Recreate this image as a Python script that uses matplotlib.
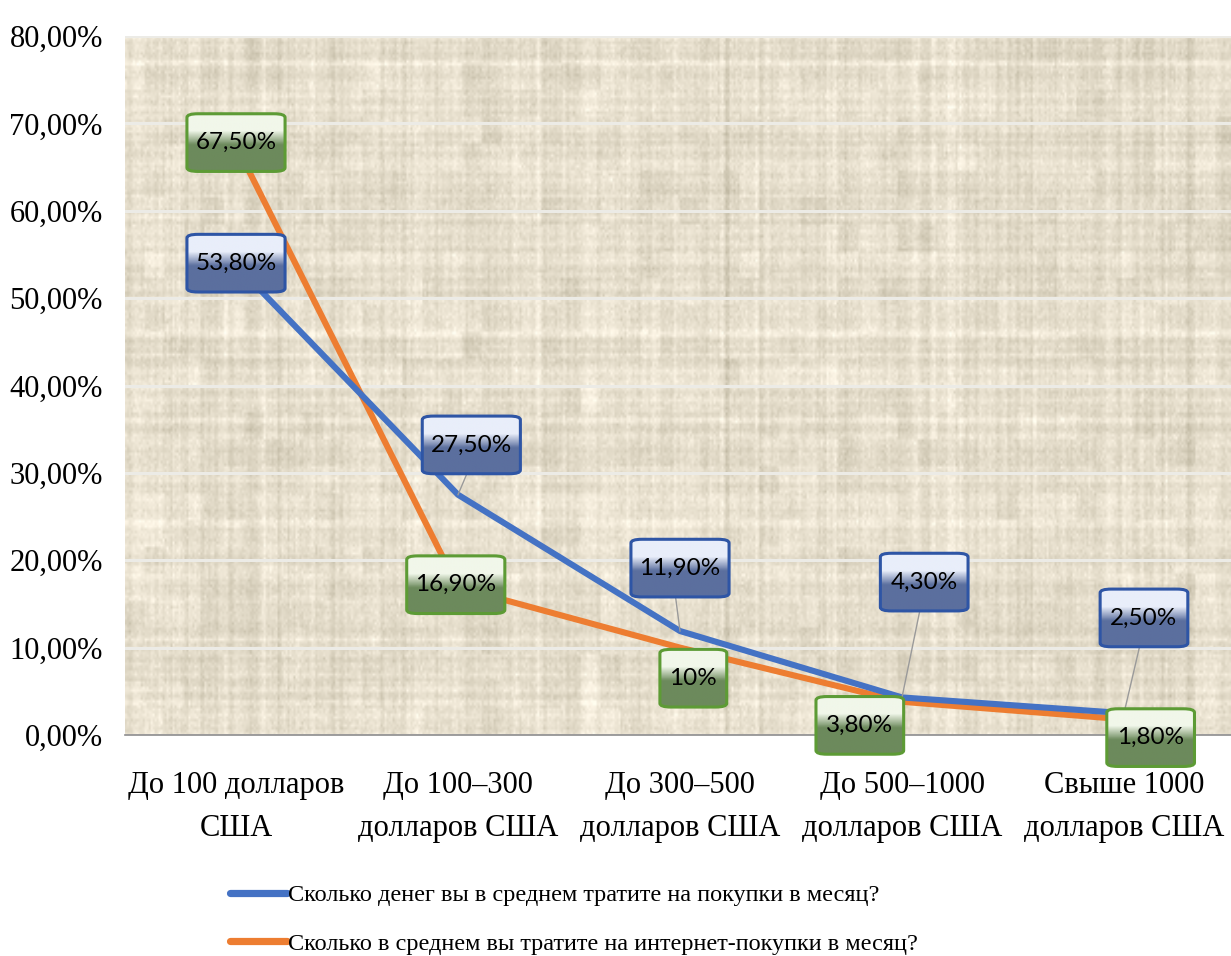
import numpy as np
import matplotlib
matplotlib.use("Agg")
import matplotlib.pyplot as plt
from matplotlib.patches import FancyBboxPatch
from matplotlib.colors import LinearSegmentedColormap

# данные опроса
categories = ["До 100 долларов\nСША", "До 100–300\nдолларов США", "До 300–500\nдолларов США",
              "До 500–1000\nдолларов США", "Свыше 1000\nдолларов США"]
spend_total = [53.8, 27.5, 11.9, 4.3, 2.5]
spend_online = [67.5, 16.9, 10.0, 3.8, 1.8]
labels_total = ["53,80%", "27,50%", "11,90%", "4,30%", "2,50%"]
labels_online = ["67,50%", "16,90%", "10%", "3,80%", "1,80%"]
series_names = ["Сколько денег вы в среднем тратите на покупки в месяц?",
                "Сколько в среднем вы тратите на интернет-покупки в месяц?"]
yticks = [0, 10, 20, 30, 40, 50, 60, 70, 80]

# положение подписей (центр рамки) относительно точки
offs_total = [(0.0, 0.2), (0.06, 5.7), (0.0, 7.2), (0.1, 13.2), (0.09, 10.9)]
offs_online = [(0.0, 0.3), (-0.01, 0.3), (0.06, -3.5), (-0.19, -2.7), (0.12, -2.1)]

blue = "#4472C4"
orange = "#ED7D31"

fig = plt.figure(figsize=(12.31, 9.56), dpi=100)
ax = fig.add_axes([125 / 1231, 1 - 735 / 956, 1110 / 1231, (735 - 36) / 956])
x = np.arange(len(categories))
ax.set_xlim(-0.5, 4.5)
ax.set_ylim(0, 80)

# фон "мешковина"
rng = np.random.default_rng(3)
H, W = 260, 560
rows = np.convolve(rng.normal(0, 1, H), np.ones(2) / 2, mode="same")
cols = np.convolve(rng.normal(0, 1, W), np.ones(2) / 2, mode="same")
fine = rng.normal(0, 1, (H, W))
blotch = rng.normal(0, 1, (H // 10 + 1, W // 10 + 1)).repeat(10, 0).repeat(10, 1)[:H, :W]
shade = 0.028 * rows[:, None] + 0.028 * cols[None, :] + 0.020 * fine + 0.014 * blotch
base = np.array([0.900, 0.870, 0.800])
tex = np.clip(base[None, None, :] + shade[:, :, None] * np.array([1.0, 1.0, 1.1]), 0, 1)
ax.imshow(tex, extent=(-0.5, 4.5, 0, 80), aspect="auto", interpolation="bilinear", zorder=0)

ax.set_yticks(yticks)
ax.yaxis.grid(True, color="#ecebe6", lw=2.2, zorder=1)
ax.set_axisbelow(True)
for s in ["left", "right", "top"]:
    ax.spines[s].set_visible(False)
ax.spines["bottom"].set_color("#8c8c8c")
ax.spines["bottom"].set_linewidth(1.2)

ax.plot(x, spend_total, color=blue, lw=4.4, solid_capstyle="butt", zorder=3, label=series_names[0])
ax.plot(x, spend_online, color=orange, lw=4.4, solid_capstyle="butt", zorder=2, label=series_names[1])


def label_box(cx, cy, text, top, bottom, edge):
    w = 0.16 + 0.047 * len(text)
    h = 6.6
    box = FancyBboxPatch((cx - w / 2, cy - h / 2), w, h,
                         boxstyle="round,pad=0,rounding_size=0.05",
                         mutation_aspect=8.5, facecolor="none", edgecolor=edge,
                         lw=2.2, zorder=6, clip_on=False)
    ax.add_patch(box)
    cmap = LinearSegmentedColormap.from_list("b", [(0, top), (0.3, top), (0.55, bottom), (1, bottom)])
    grad = np.linspace(0, 1, 64)[:, None] * np.ones((1, 8))
    im = ax.imshow(grad, cmap=cmap, extent=(cx - w / 2, cx + w / 2, cy - h / 2, cy + h / 2),
                   aspect="auto", origin="upper", zorder=5, interpolation="bilinear")
    im.set_clip_path(box)
    im.set_clip_box(fig.bbox)
    ax.text(cx, cy, text, ha="center", va="center", fontsize=17.5, family="Lato",
            color="black", zorder=7, clip_on=False)
    return h


for xi, yi, t, (dx, dy) in zip(x, spend_total, labels_total, offs_total):
    cx, cy = xi + dx, yi + dy
    h = label_box(cx, cy, t, "#e9eefa", "#5b6f9e", "#2e55a5")
    if dy > 4:
        ax.plot([cx - 0.02, xi], [cy - h / 2, yi], color="#9a9a9a", lw=1, zorder=4)

for xi, yi, t, (dx, dy) in zip(x, spend_online, labels_online, offs_online):
    label_box(xi + dx, yi + dy, t, "#f1f7ea", "#6c8a5c", "#5d9b35")

ax.set_xticks(x)
ax.set_xticklabels(categories, fontsize=22, family="Liberation Serif", linespacing=1.62)
ax.set_yticklabels([f"{v},00%" for v in yticks], fontsize=22, family="Liberation Serif")
ax.tick_params(axis="x", length=0, pad=26)
ax.tick_params(axis="y", length=0, pad=16)

leg = fig.legend(loc="upper left", bbox_to_anchor=(230 / 1231, 1 - 884 / 956), frameon=False,
                 prop={"family": "Liberation Serif", "size": 17.5}, handlelength=2.35,
                 handletextpad=0.05, labelspacing=1.1, borderaxespad=0, borderpad=0)
for line in leg.get_lines():
    line.set_linewidth(5.2)
    line.set_solid_capstyle("round")

fig.savefig("out.png", dpi=100)
